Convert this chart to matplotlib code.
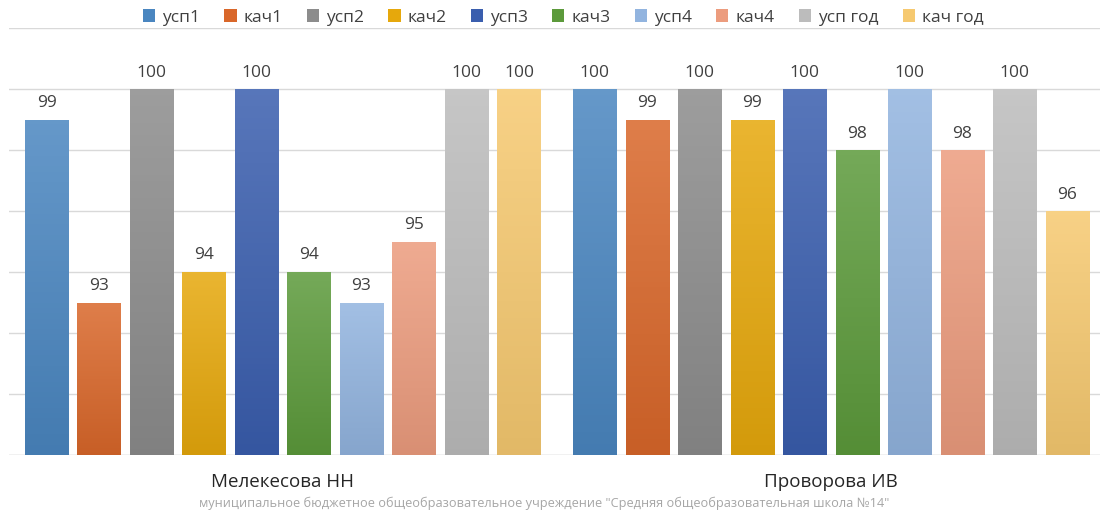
import numpy as np
import matplotlib
matplotlib.use("Agg")
import matplotlib.pyplot as plt
from matplotlib.colors import to_rgb, LinearSegmentedColormap

# data
teachers = ["Мелекесова НН", "Проворова ИВ"]
series = ["усп1", "кач1", "усп2", "кач2", "усп3", "кач3", "усп4", "кач4", "усп год", "кач год"]
melekesova = [99, 93, 100, 94, 100, 94, 93, 95, 100, 100]
provorova = [100, 99, 100, 99, 100, 98, 100, 98, 100, 96]
footer = 'муниципальное бюджетное общеобразовательное учреждение "Средняя общеобразовательная школа №14"'

colors = ["#4a86c0", "#d9672a", "#8c8c8c", "#e6a80c", "#3a5eae", "#5c9a3b",
          "#92b4df", "#ec9c7e", "#bcbcbc", "#f6c970"]

plt.rcParams['font.family'] = ['Open Sans', 'DejaVu Sans']

fig = plt.figure(figsize=(11, 5.15), dpi=100)
ax = fig.add_axes([0.00795, 0.1165, 0.9964, 0.829])

values = np.array([melekesova, provorova])
x = np.arange(len(teachers))
pitch = 0.0958
width = 0.0785


def lighten(c, f):
    r, g, b = to_rgb(c)
    return (r + (1 - r) * f, g + (1 - g) * f, b + (1 - b) * f)


def darken(c, f):
    r, g, b = to_rgb(c)
    return (r * (1 - f), g * (1 - f), b * (1 - f))


for i, name in enumerate(series):
    pos = x + (i - 4.5) * pitch
    bars = ax.bar(pos, values[:, i], width, bottom=0, color=colors[i], label=name, zorder=2)
    cmap = LinearSegmentedColormap.from_list("g", [darken(colors[i], 0.08), lighten(colors[i], 0.15)])
    for b, v in zip(bars, values[:, i]):
        bx, bw = b.get_x(), b.get_width()
        grad = np.linspace(0, 1, 64).reshape(-1, 1)
        im = ax.imshow(grad, cmap=cmap, origin="lower", aspect="auto",
                       extent=(bx, bx + bw, 88, v), zorder=3)
        im.set_clip_path(b)
        ax.text(bx + bw / 2, v + 0.28, str(v), ha="center", va="bottom",
                fontsize=12.5, color="#404040", zorder=4)

ax.set_xlim(-0.5, 1.5)
ax.set_ylim(88, 102)
ax.set_yticks(np.arange(88, 103, 2))
ax.yaxis.grid(True, color="#d9d9d9", linewidth=1.0, zorder=0)
ax.set_axisbelow(True)
ax.tick_params(left=False, labelleft=False, bottom=False, labelbottom=False)
for s in ax.spines.values():
    s.set_visible(False)
ax.axhline(88, color="#d9d9d9", linewidth=1.0, zorder=1)

for xi, t in zip(x, teachers):
    ax.text(xi, 87.1, t, ha="center", va="center", fontsize=13.5, color="#262626")

fig.text(0.495, 0.023, footer, ha="center", va="center", fontsize=9.2, color="#a6a6a6")

fig.legend(loc="upper center", bbox_to_anchor=(0.512, 1.012), ncol=10, frameon=False,
           fontsize=12.5, handlelength=0.7, handleheight=0.7, handletextpad=0.4,
           columnspacing=1.4, labelcolor="#404040")

fig.savefig("out.png", dpi=100)
